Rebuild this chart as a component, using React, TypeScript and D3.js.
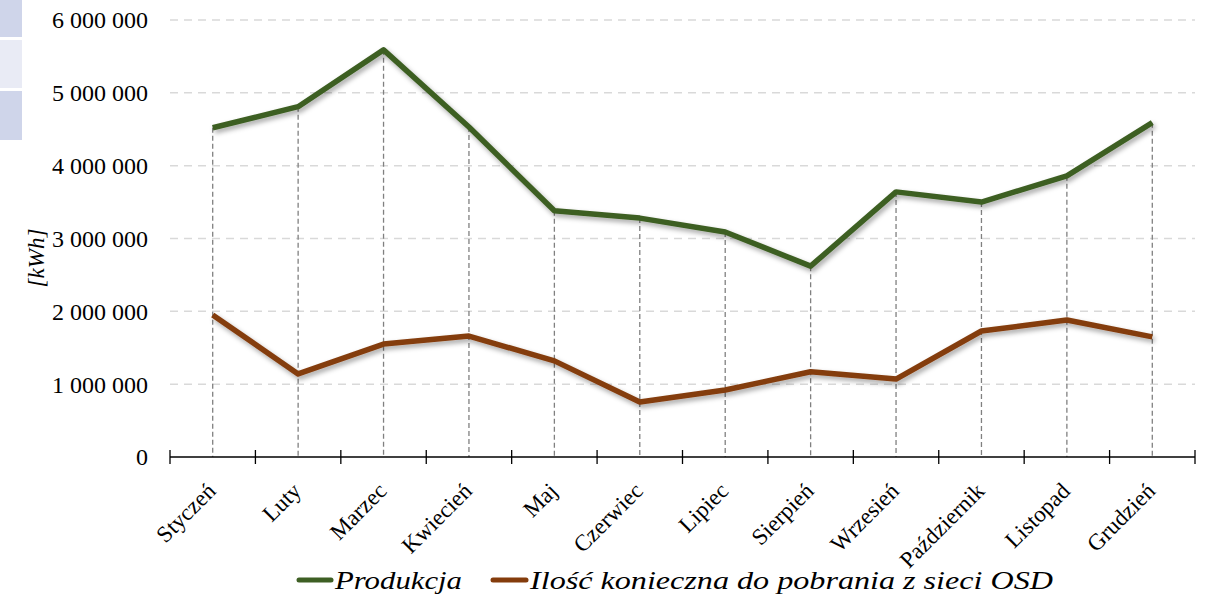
import * as React from 'react';
import {scaleBand, scaleLinear, line, range} from 'd3';

const months = ['Styczeń', 'Luty', 'Marzec', 'Kwiecień', 'Maj', 'Czerwiec', 'Lipiec', 'Sierpień', 'Wrzesień', 'Październik', 'Listopad', 'Grudzień'];
const produkcja = [4520000, 4810000, 5590000, 4530000, 3380000, 3280000, 3090000, 2620000, 3640000, 3500000, 3860000, 4590000];
const pobranie = [1950000, 1140000, 1550000, 1660000, 1320000, 755000, 920000, 1170000, 1070000, 1730000, 1880000, 1650000];
const yTicks = [0, 1000000, 2000000, 3000000, 4000000, 5000000, 6000000];
const seriesNames = ['Produkcja', 'Ilość konieczna do pobrania z sieci OSD'];

const W = 1210;
const H = 594;
const margin = {left: 170, right: 15, top: 20, bottom: 137};
const font = 'Liberation Serif, Times New Roman, serif';

const x = scaleBand<string>().domain(months).range([margin.left, W - margin.right]);
const y = scaleLinear().domain([0, 6000000]).range([H - margin.bottom, margin.top]);

const fmt = (v: number) => String(v).replace(/\B(?=(\d{3})+(?!\d))/g, ' ');
const cx = (m: string) => x(m)! + x.bandwidth() / 2;

const mkLine = line<number>().x((_, i) => cx(months[i])).y(d => y(d));

export default function App() {
    const base = y(0);
    return (
        <svg width={W} height={H} style={{position: 'absolute', left: 0, top: 0}}>
            <defs>
                <filter id="sh" x="-10%" y="-20%" width="120%" height="160%">
                    <feDropShadow dx="2" dy="3" stdDeviation="2.5" floodColor="#000" floodOpacity="0.35" />
                </filter>
            </defs>
            <rect x={0} y={0} width={22} height={37} fill="#cfd5ea" />
            <rect x={0} y={40} width={22} height={48} fill="#e9ebf5" />
            <rect x={0} y={91} width={22} height={49} fill="#cfd5ea" />

            {yTicks.filter(t => t > 0).map(t =>
                <line key={t} x1={margin.left} x2={W - margin.right} y1={y(t)} y2={y(t)}
                      stroke="#d9d9d9" strokeWidth={1.5} strokeDasharray="8,6" />
            )}
            {yTicks.map(t =>
                <text key={t} x={148} y={y(t)} dy="0.35em" textAnchor="end" fontFamily={font} fontSize={24} fill="#000">{fmt(t)}</text>
            )}
            {months.map((m, i) =>
                <line key={m} x1={cx(m)} x2={cx(m)} y1={y(Math.max(produkcja[i], pobranie[i]))} y2={base}
                      stroke="#808080" strokeWidth={1.3} strokeDasharray="5,3" />
            )}
            <line x1={margin.left} x2={W - margin.right} y1={base} y2={base} stroke="#000" strokeWidth={1.3} />
            {range(months.length + 1).map(i => {
                const xx = margin.left + i * x.step();
                return <line key={i} x1={xx} x2={xx} y1={base - 7} y2={base + 7} stroke="#000" strokeWidth={1.3} />;
            })}
            {months.map(m =>
                <text key={m} transform={`translate(${cx(m) - 7},${base + 24}) rotate(-45)`} textAnchor="end"
                      dy="0.7em" fontFamily={font} fontSize={23} fill="#000">{m}</text>
            )}
            <path d={mkLine(produkcja)!} fill="none" stroke="#3e5f24" strokeWidth={5.5} strokeLinejoin="round" filter="url(#sh)" />
            <path d={mkLine(pobranie)!} fill="none" stroke="#843c0c" strokeWidth={5.5} strokeLinejoin="round" filter="url(#sh)" />

            <text transform={`translate(44,258) rotate(-90)`} textAnchor="middle"
                  fontFamily={font} fontStyle="italic" fontSize={23}>[kWh]</text>

            <line x1={299} x2={331} y1={580} y2={580} stroke="#3e5f24" strokeWidth={5} strokeLinecap="round" />
            <text x={335} y={580} dy="0.35em" fontFamily={font} fontStyle="italic" fontSize={25}
                  textLength={127} lengthAdjust="spacingAndGlyphs">{seriesNames[0]}</text>
            <line x1={493} x2={526} y1={580} y2={580} stroke="#843c0c" strokeWidth={5} strokeLinecap="round" />
            <text x={530} y={580} dy="0.35em" fontFamily={font} fontStyle="italic" fontSize={25}
                  textLength={523} lengthAdjust="spacingAndGlyphs">{seriesNames[1]}</text>
        </svg>
    );
}
